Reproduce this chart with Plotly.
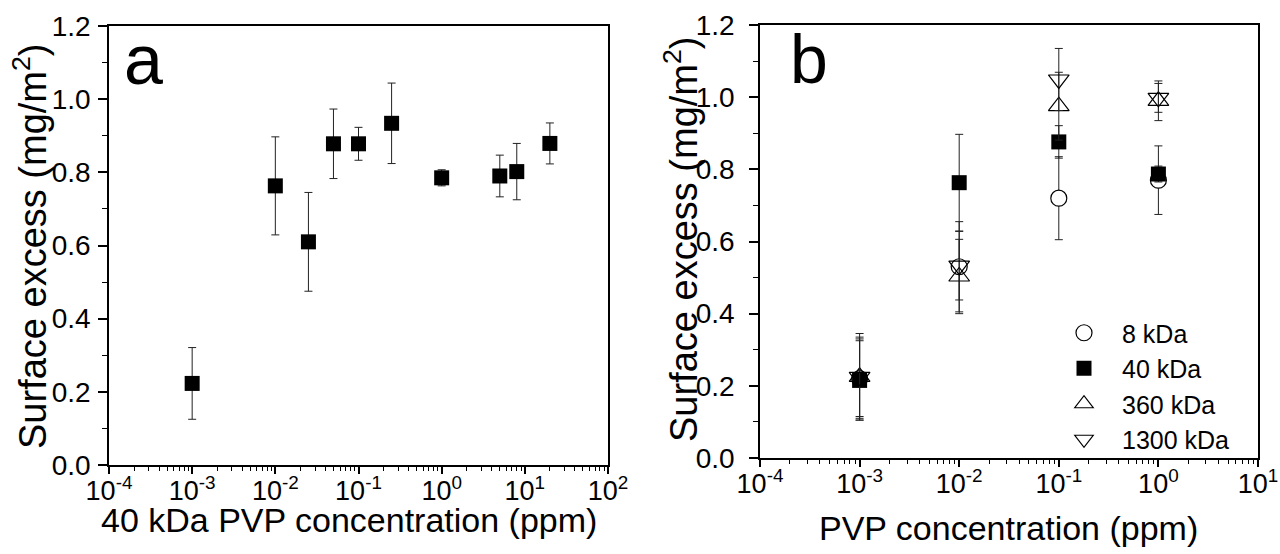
import plotly.graph_objects as go

# ---------- data ----------
# Panel a: 40 kDa PVP
conc_a = [0.001, 0.01, 0.025, 0.05, 0.1, 0.25, 1, 5, 8, 20]
surf_a = [0.223, 0.763, 0.610, 0.878, 0.878, 0.934, 0.785, 0.790, 0.802, 0.879]
err_a = [0.098, 0.134, 0.135, 0.095, 0.045, 0.110, 0.022, 0.057, 0.077, 0.056]

# Panel b: different molecular weights
conc_b = [0.001, 0.01, 0.1, 1]
surf_8 = [0.220, 0.530, 0.720, 0.770]
err_8 = [0.110, 0.125, 0.115, 0.095]
surf_40 = [0.215, 0.763, 0.876, 0.787]
err_40 = [0.110, 0.134, 0.045, 0.022]
surf_360 = [0.225, 0.503, 0.975, 0.990]
err_360 = [0.120, 0.103, 0.094, 0.055]
surf_1300 = [0.225, 0.533, 1.049, 0.998]
err_1300 = [0.110, 0.095, 0.086, 0.040]

series_names = ["8 kDa", "40 kDa", "360 kDa", "1300 kDa"]

xtick_vals_a = [1e-4, 1e-3, 1e-2, 1e-1, 1, 10, 100]
xtick_text_a = ["10<sup>-4</sup>", "10<sup>-3</sup>", "10<sup>-2</sup>", "10<sup>-1</sup>",
                "10<sup>0</sup>", "10<sup>1</sup>", "10<sup>2</sup>"]
xtick_vals_b = [1e-4, 1e-3, 1e-2, 1e-1, 1, 10]
xtick_text_b = ["10<sup>-4</sup>", "10<sup>-3</sup>", "10<sup>-2</sup>", "10<sup>-1</sup>",
                "10<sup>0</sup>", "10<sup>1</sup>"]

xtitle_a = "40 kDa PVP concentration (ppm)"
xtitle_b = "PVP concentration (ppm)"
ytitle = "Surface excess (mg/m<sup>2</sup>)"

# ---------- figure ----------
W, H = 1280, 554
FONT = "Liberation Sans, Arial, sans-serif"

def px_x(p):
    return p / W

def px_y(p):
    return (H - p) / H

fig = go.Figure()

err_style = dict(type="data", visible=True, color="#222222", thickness=1, width=4)

fig.add_trace(go.Scatter(
    x=conc_a, y=surf_a, mode="markers", xaxis="x", yaxis="y", showlegend=False,
    marker=dict(symbol="square", size=15, color="black", line=dict(width=0)),
    error_y=dict(array=err_a, **err_style), name="40 kDa (a)"))

b_series = [
    (surf_8, err_8, dict(symbol="circle", size=16, color="white", line=dict(color="black", width=1.2))),
    (surf_40, err_40, dict(symbol="square", size=15, color="black", line=dict(width=0))),
    (surf_360, err_360, dict(symbol="triangle-up-open", size=18, color="black", line=dict(color="black", width=1.2))),
    (surf_1300, err_1300, dict(symbol="triangle-down-open", size=18, color="black", line=dict(color="black", width=1.2))),
]
for name, (yv, ev, mk) in zip(series_names, b_series):
    fig.add_trace(go.Scatter(
        x=conc_b, y=yv, mode="markers", xaxis="x2", yaxis="y2", name=name,
        marker=mk, error_y=dict(array=ev, **err_style)))

minor_x = [k * 10.0 ** n for n in range(-4, 2) for k in range(2, 10)]

TICK_SIZE = 27
TITLE_SIZE = 34

def xaxis_cfg(dom, anchor, rng, tv, tt):
    return dict(
        type="log", range=rng, domain=dom, anchor=anchor,
        showline=True, linecolor="black", linewidth=1.5, mirror=True,
        ticks="outside", ticklen=7, tickwidth=1.5, tickcolor="black",
        tickmode="array", tickvals=tv, ticktext=tt,
        tickfont=dict(family=FONT, size=TICK_SIZE, color="black"),
        ticklabelstandoff=-6,
        minor=dict(tickmode="array", tickvals=minor_x, ticks="outside", ticklen=4,
                   tickwidth=1, tickcolor="black", showgrid=False),
        showgrid=False, zeroline=False,
    )

def yaxis_cfg(dom, anchor, standoff):
    return dict(
        range=[0, 1.2], domain=dom, anchor=anchor,
        showline=True, linecolor="black", linewidth=1.5, mirror=True,
        ticks="outside", ticklen=9, tickwidth=1.5, tickcolor="black",
        tickmode="linear", tick0=0, dtick=0.2, tickformat=".1f",
        tickfont=dict(family=FONT, size=28, color="black"),
        ticklabelstandoff=standoff,
        minor=dict(dtick=0.1, ticks="outside", ticklen=5, tickwidth=1, tickcolor="black", showgrid=False),
        showgrid=False, zeroline=False,
    )

def title_ann(text, x, y, angle=0, size=TITLE_SIZE):
    return dict(text=text, x=px_x(x), y=px_y(y), xref="paper", yref="paper",
                xanchor="center", yanchor="middle", showarrow=False, textangle=angle,
                font=dict(family=FONT, size=size, color="black"))

fig.update_layout(
    width=W, height=H,
    paper_bgcolor="white", plot_bgcolor="white",
    margin=dict(l=0, r=0, t=0, b=0, autoexpand=False),
    xaxis=xaxis_cfg([px_x(109), px_x(608)], "y", [-4, 2], xtick_vals_a, xtick_text_a),
    yaxis=yaxis_cfg([px_y(465), px_y(26)], "x", 2),
    xaxis2=xaxis_cfg([px_x(760), px_x(1258)], "y2", [-4, 1], xtick_vals_b, xtick_text_b),
    yaxis2=yaxis_cfg([px_y(458), px_y(25)], "x2", 9),
    legend=dict(x=px_x(1046), y=px_y(310), xanchor="left", yanchor="top",
                bgcolor="rgba(0,0,0,0)", borderwidth=0,
                font=dict(family=FONT, size=25, color="black"),
                itemsizing="trace", itemwidth=66, tracegroupgap=0),
    annotations=[
        title_ann(xtitle_a, 349, 520),
        title_ann(xtitle_b, 1008, 528),
        title_ann(ytitle, 30, 247, -90, 38),
        title_ann(ytitle, 681, 240, -90, 38),
        dict(text="a", x=px_x(122), y=px_y(19), xref="paper", yref="paper",
             xanchor="left", yanchor="top", showarrow=False,
             font=dict(family=FONT, size=70, color="black")),
        dict(text="b", x=px_x(788), y=px_y(19), xref="paper", yref="paper",
             xanchor="left", yanchor="top", showarrow=False,
             font=dict(family=FONT, size=68, color="black")),
    ],
)

fig.write_html(
    "out.html",
    config={"displayModeBar": False},
    post_script="document.body.style.margin='0';document.body.style.overflow='hidden';",
)
